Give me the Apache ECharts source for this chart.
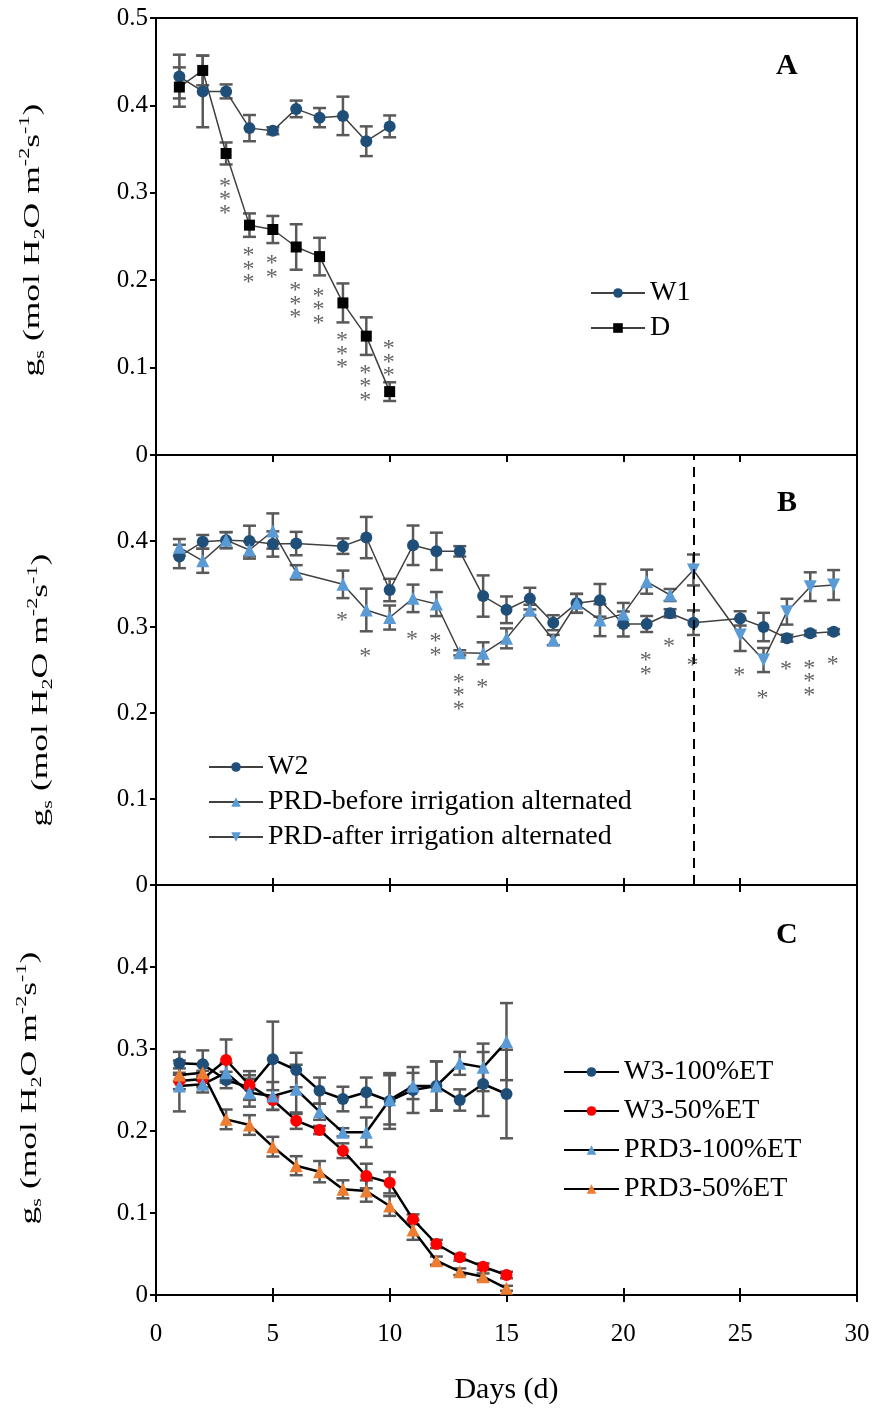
<!DOCTYPE html>
<html><head><meta charset="utf-8">
<script src="https://cdn.jsdelivr.net/npm/echarts@6/dist/echarts.min.js"></script>
<style>html,body{margin:0;padding:0;background:#fff}#c{width:876px;height:1423px}</style>
</head><body><div id="c"></div>
<script>
// ---------- Panel A ----------
const daysA = [1,2,3,4,5,6,7,8,9,10];
const W1 = [0.433,0.416,0.416,0.374,0.371,0.396,0.386,0.388,0.359,0.376];
const W1_err = [0.025,0.041,0.008,0.015,0.004,0.0095,0.011,0.022,0.017,0.0125];
const D = [0.421,0.440,0.345,0.263,0.258,0.238,0.227,0.174,0.136,0.0725];
const D_err = [0.0225,0.017,0.0126,0.0134,0.0155,0.026,0.0215,0.0223,0.0215,0.0107];
const starsA_days = [3,4,5,6,7,8,9,10];
const starsA_y = [0.2986,0.219,0.2177,0.179,0.173,0.1219,0.085,0.1125];
const starsA_n = [3,3,2,3,3,3,3,3];

// ---------- Panel B ----------
const daysW2 = [1,2,3,4,5,6,8,9,10,11,12,13,14,15,16,17,18,19,20,21,22,23,25,26,27,28,29];
const W2 = [0.382,0.399,0.401,0.400,0.3965,0.397,0.394,0.404,0.343,0.395,0.388,0.388,0.336,0.320,0.333,0.305,0.3275,0.331,0.3035,0.3035,0.316,0.305,0.310,0.300,0.287,0.2926,0.2946];
const W2_err = [0.0136,0.008,0.0093,0.0178,0.0147,0.0136,0.009,0.024,0.013,0.023,0.0217,0.006,0.024,0.0155,0.0126,0.0087,0.011,0.019,0.0145,0.0093,0.0047,0.0143,0.0083,0.0165,0.004,0.003,0.003];
const daysPRDb = [1,2,3,4,5,6,8,9,10,11,12,13,14,15,16,17,18,19,20,21,22];
const PRDb = [0.3926,0.377,0.401,0.3895,0.4116,0.3636,0.3496,0.3198,0.311,0.3333,0.3267,0.270,0.2694,0.2868,0.3198,0.2849,0.3275,0.308,0.315,0.3527,0.3372];
const PRDb_err = [0.0097,0.014,0.0093,0.01,0.0205,0.0083,0.016,0.0248,0.014,0.016,0.014,0.003,0.0128,0.0116,0.006,0.006,0.011,0.0186,0.013,0.014,0.007];
const daysPRDa = [23,25,26,27,28,29];
const PRDa = [0.3663,0.2907,0.2616,0.3178,0.3469,0.3488];
const PRDa_err = [0.018,0.0186,0.014,0.015,0.0167,0.0174];
const alternateDay = 23;
const starsB_days = [8,9,11,12,13,14,21,22,23,25,26,27,28,29];
const starsB_y = [0.314,0.273,0.2926,0.2816,0.2267,0.2364,0.2597,0.284,0.2624,0.25,0.2236,0.257,0.243,0.2636];
const starsB_n = [1,1,1,2,3,1,2,1,1,1,1,1,3,1];

// ---------- Panel C ----------
const daysC = [1,2,3,4,5,6,7,8,9,10,11,12,13,14,15];
const W3_100 = [0.2825,0.2813,0.2622,0.253,0.2874,0.2744,0.2492,0.239,0.2472,0.2366,0.250,0.2549,0.2378,0.2573,0.2451];
const W3_100_err = [0.014,0.017,0.01,0.015,0.046,0.021,0.016,0.015,0.018,0.034,0.028,0.03,0.013,0.039,0.054];
const W3_50 = [0.261,0.2634,0.2866,0.256,0.2378,0.2126,0.2012,0.176,0.1451,0.137,0.0923,0.0622,0.046,0.0345,0.0244];
const W3_50_err = [0.01,0.01,0.025,0.017,0.012,0.01,0.005,0.009,0.015,0.013,0.006,0.005,0.004,0.004,0.004];
const PRD3_100 = [0.2549,0.257,0.2711,0.2467,0.2427,0.2508,0.2236,0.1984,0.1984,0.238,0.2549,0.2549,0.2825,0.2776,0.309];
const PRD3_100_err = [0.031,0.01,0.012,0.017,0.017,0.03,0.01,0.005,0.018,0.03,0.016,0.03,0.014,0.029,0.047];
const PRD3_50 = [0.2683,0.2711,0.2142,0.2073,0.1809,0.1577,0.1504,0.1289,0.1268,0.1085,0.0793,0.0419,0.0284,0.0223,0.0082];
const PRD3_50_err = [0.008,0.01,0.012,0.012,0.012,0.0116,0.013,0.011,0.013,0.012,0.012,0.005,0.004,0.004,0.003];

const xTicks = [0,5,10,15,20,25,30];
const yTicks = [0,0.1,0.2,0.3,0.4,0.5];

// ---------- styling helpers ----------
const FONT = 'Liberation Serif';
const DARK = '#1F4E79', LIGHT = '#5B9BD5', ORANGE = '#ED7D31', RED = '#FF0000';

function zip(d, v){ return d.map((x,i)=>[x, v[i]]); }

function errSeries(gi, days, vals, errs){
  return {
    type:'custom', xAxisIndex:gi, yAxisIndex:gi, silent:true, z:2,
    encode:{x:0, y:1},
    data: days.map((d,i)=>[d, vals[i], errs[i]]),
    renderItem(params, api){
      const x=api.value(0), y=api.value(1), e=api.value(2);
      const t=api.coord([x,y+e]), b=api.coord([x,y-e]);
      const w=6.5, st={stroke:'#595959', lineWidth:2.5};
      return {type:'group', children:[
        {type:'line', shape:{x1:t[0],y1:t[1],x2:b[0],y2:b[1]}, style:st},
        {type:'line', shape:{x1:t[0]-w,y1:t[1],x2:t[0]+w,y2:t[1]}, style:st},
        {type:'line', shape:{x1:b[0]-w,y1:b[1],x2:b[0]+w,y2:b[1]}, style:st}
      ]};
    }
  };
}

function lineSeries(gi, name, data, symbol, color, size, lineColor, lineWidth, extra){
  return Object.assign({
    type:'line', name, xAxisIndex:gi, yAxisIndex:gi, data,
    symbol, symbolSize:size, showAllSymbol:true,
    itemStyle:{color, opacity:1}, lineStyle:{color:lineColor, width:lineWidth},
    z:3, animation:false
  }, extra||{});
}

function starSeries(gi, days, ys, ns){
  return {
    type:'scatter', xAxisIndex:gi, yAxisIndex:gi, silent:true, z:5,
    data: days.map((d,i)=>[d, ys[i], ns[i]]),
    symbolSize:1, itemStyle:{color:'rgba(0,0,0,0)'},
    label:{show:true, position:'inside', offset:[-1,6],
      formatter:p=>Array(p.value[2]).fill('*').join('\n'),
      fontFamily:FONT, fontSize:24, lineHeight:13.5, color:'#3a3a3a'}
  };
}

const yName = '{a|g}{b|s}{a| (mol H}{b|2}{a|O m}{c|-2}{a|s}{c|-1}{a|)}';
const yRich = {
  a:{fontFamily:FONT, fontSize:24, fill:'#000', color:'#000', lineHeight:30},
  b:{fontFamily:FONT, fontSize:15, fill:'#000', color:'#000', verticalAlign:'bottom', lineHeight:15},
  c:{fontFamily:FONT, fontSize:15, fill:'#000', color:'#000', verticalAlign:'top', lineHeight:15}
};
function yTitle(cx, cy){
  return {
    type:'text', x:cx, y:cy, rotation:Math.PI/2, scaleX:1.48, scaleY:1, silent:true,
    style:{text:yName, rich:yRich, fontFamily:FONT, fontSize:24, fill:'#000', align:'center', verticalAlign:'middle'}
  };
}

const grids = [
  {left:156, top:18, width:701, height:437},
  {left:156, top:455, width:701, height:430},
  {left:156, top:885, width:701, height:410}
].map(g=>Object.assign(g,{show:true, borderColor:'#000', borderWidth:2, backgroundColor:'transparent'}));

function xAxisFor(gi, showLabels){
  return {
    type:'value', gridIndex:gi, min:xTicks[0], max:xTicks[xTicks.length-1], interval:xTicks[1]-xTicks[0],
    position:'bottom',
    axisLine:{show:true, onZero:false, lineStyle:{color:'#000', width:2}},
    axisTick:{show:true, inside:false, length:7, lineStyle:{color:'#000', width:2}},
    splitLine:{show:false},
    axisLabel:{show:showLabels, margin:27, fontFamily:FONT, fontSize:25, color:'#000'},
    name: showLabels ? 'Days (d)' : '',
    nameLocation:'middle', nameGap:80,
    nameTextStyle:{fontFamily:FONT, fontSize:30, color:'#000'}
  };
}
function topAxisFor(gi){
  return {
    type:'value', gridIndex:gi, min:xTicks[0], max:xTicks[xTicks.length-1], interval:xTicks[1]-xTicks[0],
    position:'top',
    axisLine:{show:false},
    axisTick:{show:true, inside:false, length:7, lineStyle:{color:'#000', width:2}},
    splitLine:{show:false}, axisLabel:{show:false}
  };
}
function yAxisFor(gi, showTop){
  return {
    type:'value', gridIndex:gi, min:yTicks[0], max:yTicks[yTicks.length-1], interval:yTicks[1]-yTicks[0],
    axisLine:{show:true, lineStyle:{color:'#000', width:2}},
    axisTick:{show:true, inside:false, length:6, lineStyle:{color:'#000', width:2}},
    splitLine:{show:false},
    axisLabel:{margin:8, fontFamily:FONT, fontSize:25, color:'#000',
      formatter:v=>{ if(!showTop && Math.abs(v-0.5)<1e-9) return ''; return String(Math.round(v*10)/10); }}
  };
}

const legendText = {fontFamily:FONT, fontSize:28, color:'#000', lineHeight:28};

const beforeData = zip(daysPRDb, PRDb).concat([{value:[daysPRDa[0], PRDa[0]], symbol:'none'}]);

const titleStyle = {fontFamily:FONT, fontWeight:'bold', fontSize:30, color:'#000'};

const option = {
  animation:false,
  backgroundColor:'#fff',
  title:[
    {text:'A', left:776, top:51, padding:0, textStyle:titleStyle},
    {text:'B', left:777, top:488, padding:0, textStyle:titleStyle},
    {text:'C', left:776, top:920, padding:0, textStyle:titleStyle}
  ],
  graphic:[ yTitle(33, 240), yTitle(41, 690), yTitle(30, 1088) ],
  grid:grids,
  xAxis:[xAxisFor(0,false), xAxisFor(1,false), xAxisFor(2,true), topAxisFor(1), topAxisFor(2)],
  yAxis:[yAxisFor(0,true), yAxisFor(1,false), yAxisFor(2,false)],
  legend:[
    {orient:'vertical', left:590, top:279, itemWidth:54, itemHeight:12, itemGap:7, padding:0,
     data:['W1','D'], textStyle:legendText, selectedMode:false},
    {orient:'vertical', left:208, top:753, itemWidth:54, itemHeight:12, itemGap:7, padding:0,
     data:['W2','PRD-before irrigation alternated','PRD-after irrigation alternated'], textStyle:legendText, selectedMode:false},
    {orient:'vertical', left:563, top:1058, itemWidth:55, itemHeight:12, itemGap:11, padding:0,
     data:['W3-100%ET','W3-50%ET','PRD3-100%ET','PRD3-50%ET'], textStyle:legendText, selectedMode:false}
  ],
  series:[
    // Panel A
    errSeries(0, daysA, W1, W1_err),
    errSeries(0, daysA, D, D_err),
    lineSeries(0,'W1', zip(daysA,W1), 'circle', DARK, 12, '#404040', 1.5),
    lineSeries(0,'D', zip(daysA,D), 'rect', '#000', 11, '#404040', 1.5),
    starSeries(0, starsA_days, starsA_y, starsA_n),
    // Panel B
    errSeries(1, daysW2, W2, W2_err),
    errSeries(1, daysPRDb, PRDb, PRDb_err),
    errSeries(1, daysPRDa, PRDa, PRDa_err),
    lineSeries(1,'W2', zip(daysW2,W2), 'circle', DARK, 12, '#404040', 1.5, {
      markLine:{silent:true, symbol:'none', label:{show:false},
        lineStyle:{color:'#000', width:2, type:[10,7]},
        data:[{xAxis:alternateDay}]}
    }),
    lineSeries(1,'PRD-before irrigation alternated', beforeData, 'triangle', LIGHT, 13, '#404040', 1.5),
    lineSeries(1,'PRD-after irrigation alternated', zip(daysPRDa,PRDa), 'triangle', LIGHT, 13, '#404040', 1.5, {symbolRotate:180}),
    starSeries(1, starsB_days, starsB_y, starsB_n),
    // Panel C
    errSeries(2, daysC, W3_100, W3_100_err),
    errSeries(2, daysC, W3_50, W3_50_err),
    errSeries(2, daysC, PRD3_100, PRD3_100_err),
    errSeries(2, daysC, PRD3_50, PRD3_50_err),
    lineSeries(2,'W3-100%ET', zip(daysC,W3_100), 'circle', DARK, 12, '#000', 2.5),
    lineSeries(2,'W3-50%ET', zip(daysC,W3_50), 'circle', RED, 12, '#000', 2.5),
    lineSeries(2,'PRD3-100%ET', zip(daysC,PRD3_100), 'triangle', LIGHT, 13, '#000', 2.5),
    lineSeries(2,'PRD3-50%ET', zip(daysC,PRD3_50), 'triangle', ORANGE, 13, '#000', 2.5)
  ]
};

const chart = echarts.init(document.getElementById('c'), null, {renderer:'canvas', width:876, height:1423});
chart.setOption(option);
</script></body></html>
